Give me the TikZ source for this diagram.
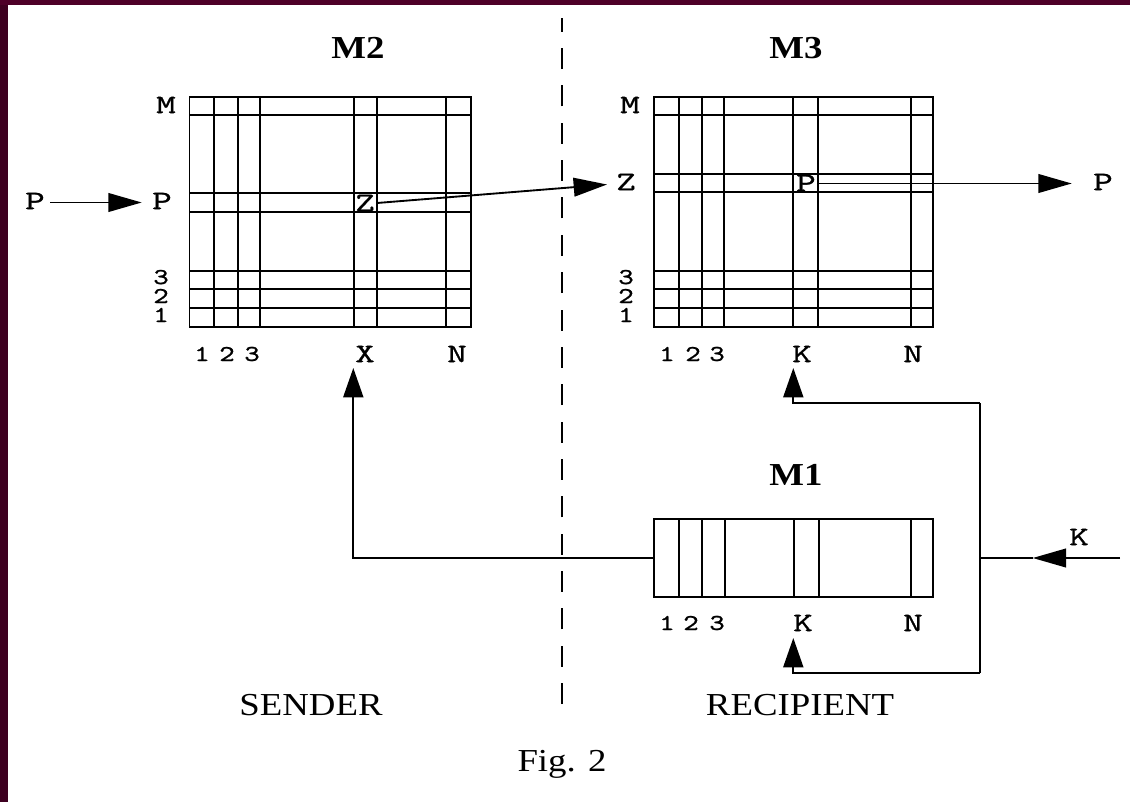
\documentclass[tikz,border=0pt]{standalone}
\usepackage{fontspec}
\setmainfont{Liberation Serif}[FakeStretch=1.15]
\newfontfamily\labfont{lmmono10-regular.otf}[FakeStretch=1.4,FakeBold=1]
\newfontfamily\digfont{lmmono10-regular.otf}[FakeStretch=1.3,FakeBold=1]
\usetikzlibrary{arrows.meta}
\definecolor{borderL}{RGB}{62,0,32}
\definecolor{borderT}{RGB}{78,0,40}
\tikzset{
  ln/.style={line width=1.4pt},
  arr/.style={ln, -{Triangle[length=25pt,width=14pt]}},
  varr/.style={ln, -{Triangle[length=22pt,width=15pt]}},
  lab/.style={inner sep=0pt, font=\labfont\fontsize{20}{22}\selectfont},
  dig/.style={inner sep=0pt, font=\digfont\fontsize{17}{14.25}\selectfont},
  digstack/.style={dig, align=center},
  title/.style={inner sep=0pt, anchor=base, font=\fontsize{24}{28}\selectfont\bfseries},
  side/.style={inner sep=0pt, anchor=base, font=\fontsize{24}{28}\selectfont},
  divider/.style={line width=1.4pt, dash pattern=on 15.75pt off 12.26pt},
}
\begin{document}
\begin{tikzpicture}[x=0.75pt,y=-0.75pt]
\useasboundingbox (0,0) rectangle (1130,802);
\fill[white] (0,0) rectangle (1130,802);
\fill[borderL] (0,0) rectangle (8,802);
\fill[borderT] (0,0) rectangle (1130,5);

% divider
\coordinate (dvb) at (562.3,704);
\coordinate (dvt) at (562.3,18);
\draw[divider] (dvb) -- (dvt);

% ---------- M2 grid ----------
\draw[ln] (189.5,97.3) rectangle (471,327.3);
\foreach \x in {214.3,237.7,260,354,376.7,446} \draw[ln] (\x,97.3) -- (\x,327.3);
\foreach \y in {115,192.7,212.3,270.7,289.3,308.3} \draw[ln] (189.5,\y) -- (471,\y);

% ---------- M3 grid ----------
\draw[ln] (654,97.3) rectangle (933.3,327.3);
\foreach \x in {679.3,701.7,724.3,793.3,818.3,911} \draw[ln] (\x,97.3) -- (\x,327.3);
\foreach \y in {115,174,192.3,270.7,289.3,308.3} \draw[ln] (654,\y) -- (933.3,\y);

% ---------- M1 row ----------
\draw[ln] (654,519) rectangle (933.3,597.3);
\foreach \x in {679.3,702,724.7,793.7,819,910.7} \draw[ln] (\x,519) -- (\x,597.3);

% titles
\node[title] (tM2) at (358,59) {M2};
\node[title] (tM3) at (796,59) {M3};
\node[title] (tM1) at (796,485) {M1};

% M2 labels
\node[lab] (a2M) at (166,105) {M};
\node[lab] (a2P) at (162,201) {P};
\node[digstack] (a2rows) at (161,296) {3\\2\\1};
\node[dig] (b21) at (202,354) {1};
\node[dig] (b22) at (227,354) {2};
\node[dig] (b23) at (252,354) {3};
\node[lab] (b2X) at (365,354) {X};
\node[lab] (b2N) at (457,354) {N};
\node[lab] (z2) at (365,203) {Z};

% M3 labels
\node[lab] (a3M) at (630,105) {M};
\node[lab] (a3Z) at (626,182) {Z};
\node[digstack] (a3rows) at (626,296) {3\\2\\1};
\node[dig] (b31) at (667,354) {1};
\node[dig] (b32) at (693,354) {2};
\node[dig] (b33) at (717,354) {3};
\node[lab] (b3K) at (802,354) {K};
\node[lab] (b3N) at (913,354) {N};
\node[lab] (p3) at (806,183) {P};

% M1 labels
\node[dig] (c11) at (667,623) {1};
\node[dig] (c12) at (691,623) {2};
\node[dig] (c13) at (717,623) {3};
\node[lab] (c1K) at (803,623) {K};
\node[lab] (c1N) at (913,623) {N};

% outer labels
\node[lab] (pIn) at (35,201) {P};
\node[lab] (pOut) at (1103,182) {P};
\node[lab] (kIn) at (1079,537) {K};

% connectors
\coordinate (pinS) at (50,202.5);
\coordinate (pinT) at (141.7,202.5);
\draw[arr] (pinS) -- (pinT);

\coordinate (zS) at (377,203);
\coordinate (zT) at (607,184.5);
\draw[arr] (zS) -- (zT);

\coordinate (pS) at (818.3,183.5);
\coordinate (pT) at (1071.7,183.5);
\draw[arr] (pS) -- (pT);

\coordinate (kS) at (1120,558);
\coordinate (kT) at (1032.7,558);
\coordinate (jn) at (980,558);
\draw[arr] (kS) -- (kT);
\draw[ln] (kT) -- (jn);

\coordinate (jTop) at (980,403);
\coordinate (jBot) at (980,673);
\draw[ln] (jTop) -- (jBot);
\coordinate (kTopT) at (793.3,368);
\coordinate (kBotT) at (793.3,638);
\draw[varr] (jTop) -| (kTopT);
\draw[varr] (jBot) -| (kBotT);

\coordinate (m1L) at (654,558);
\coordinate (xT) at (353.3,368);
\draw[varr] (m1L) -| (xT);

% bottom texts
\node[side] (snd) at (311,715) {SENDER};
\node[side] (rcp) at (800,715) {RECIPIENT};
\node[side] (fig) at (562,771) {Fig. 2};
\end{tikzpicture}
\end{document}
